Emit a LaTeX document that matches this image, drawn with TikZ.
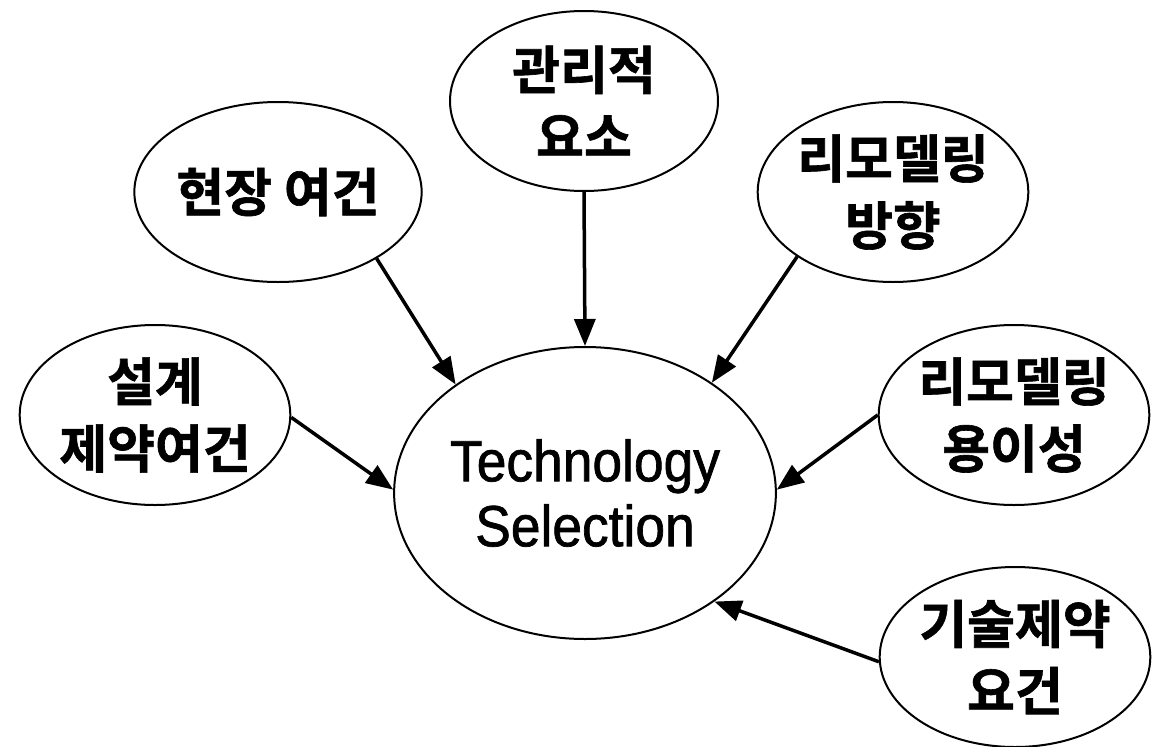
\documentclass[tikz,border=0pt]{standalone}
\usepackage{fontspec}
\usetikzlibrary{shapes.geometric,arrows.meta}
\newfontfamily\krfont[FakeBold=1.2]{Noto Sans CJK KR Bold}
\newfontfamily\techfont[FakeStretch=0.92,FakeBold=1.2]{Liberation Sans}
\tikzset{
  sat/.style={draw, line width=2pt, ellipse, minimum width=268pt, minimum height=180pt, inner sep=0pt, align=center, font=\krfont\fontsize{52}{67}\selectfont},
  hub/.style={draw, line width=2pt, ellipse, minimum width=350pt, minimum height=292pt, inner sep=0pt, align=center, font=\techfont\fontsize{58}{65}\selectfont},
  arr/.style={line width=3.5pt, -{Triangle[length=27pt,width=21pt]}}
}
\begin{document}
\begin{tikzpicture}[x=1pt,y=-1pt]
\path[use as bounding box, fill=white] (0,0) rectangle (1157,747);
\node[hub] (ts) at (585,493) {Technology\\Selection};
\node[sat] (mg) at (584,101) {관리적\\요소};
\node[sat] (hj) at (278,192) {현장 여건};
\node[sat] (rb) at (893,192) {리모델링\\방향};
\node[sat] (sg) at (155,415) {설계\\제약여건};
\node[sat] (ry) at (1014,415) {리모델링\\용이성};
\node[sat] (gs) at (1015,657) {기술제약\\요건};
\draw[arr] (mg.-90) -- (ts.90);
\draw[arr] (hj.-34) -- (ts.140);
\draw[arr] (rb.-146) -- (ts.41);
\draw[arr] (sg.-1) -- (ts.179);
\draw[arr] (ry.180) -- (ts.1);
\draw[arr] (gs.182) -- (ts.-40);
\end{tikzpicture}
\end{document}
